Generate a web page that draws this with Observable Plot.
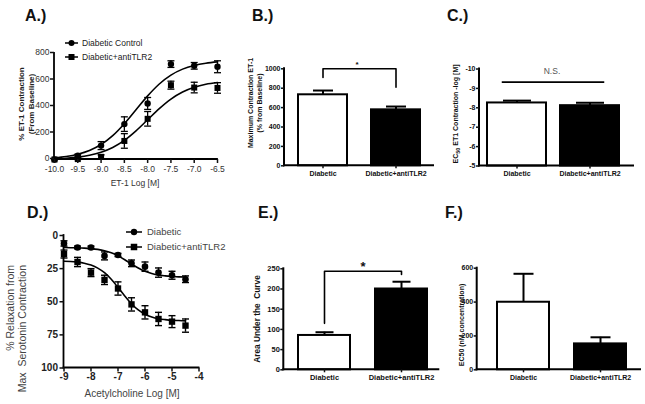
<!DOCTYPE html>
<html><head><meta charset="utf-8">
<script src="https://cdn.jsdelivr.net/npm/d3@7"></script>
<script src="https://cdn.jsdelivr.net/npm/@observablehq/plot@0.6"></script>
<style>
body{margin:0;background:#fff;}
#fig{position:relative;width:645px;height:404px;background:#fff;overflow:hidden;}
#fig svg{position:absolute;overflow:visible;}
</style></head><body><div id="fig"></div>
<script>
// ---------- Panel A: ET-1 concentration response ----------
const aDoses = [-10, -9.5, -9, -8.5, -8, -7.5, -7, -6.5];
const aControl = [0, 28, 105, 267, 423, 720, 707, 700];
const aControlErr = [4, 12, 30, 55, 45, 25, 25, 45];
const aTLR2 = [0, 3, 20, 140, 307, 561, 543, 540];
const aTLR2Err = [3, 5, 15, 55, 55, 30, 40, 40];
const aFitX = [-10, -9.75, -9.5, -9.25, -9, -8.75, -8.5, -8.25, -8, -7.75, -7.5, -7.25, -7, -6.75, -6.5];
const aFitControl = [13, 23, 40, 68, 113, 180, 270, 375, 480, 570, 637, 682, 710, 727, 737];
const aFitTLR2 = [6, 10, 18, 32, 55, 91, 144, 216, 300, 384, 456, 509, 545, 568, 581];
const aXTicks = [-10, -9.5, -9, -8.5, -8, -7.5, -7, -6.5];
const aYTicks = [0, 200, 400, 600, 800];
const aLegend = ["Diabetic Control", "Diabetic+antiTLR2"];

// ---------- Panel D: acetylcholine relaxation ----------
const dDoses = [-9, -8.5, -8, -7.5, -7, -6.5, -6, -5.5, -5, -4.5];
const dDiabetic = [6, 9, 9, 15.4, 14.7, 21, 23.5, 28, 30, 33];
const dDiabeticErr = [2, 1, 1, 3, 1.2, 2.5, 3.5, 3.5, 3, 2.5];
const dTLR2 = [14, 20, 28, 33.5, 40, 52, 58, 63, 65, 68];
const dTLR2Err = [3, 3.5, 3, 3.5, 5, 5, 5, 5, 4.5, 5];
const dFitX = [-9, -8.75, -8.5, -8.25, -8, -7.75, -7.5, -7.25, -7, -6.75, -6.5, -6.25, -6, -5.75, -5.5, -5.25, -5, -4.75, -4.5];
const dFitDiabetic = [9.1, 9.2, 9.3, 9.5, 9.9, 10.5, 11.5, 13.1, 15.4, 18.3, 21.5, 24.5, 27.0, 28.7, 29.9, 30.5, 30.9, 31.2, 31.3];
const dFitTLR2 = [19.4, 19.6, 20.1, 20.9, 22.3, 24.6, 28.1, 33.0, 39.2, 45.6, 51.5, 56.2, 59.4, 61.5, 62.8, 63.5, 64.0, 64.2, 64.4];
const dXTicks = [-9, -8, -7, -6, -5, -4];
const dYTicks = [0, 25, 50, 75, 100];
const dLegend = ["Diabetic", "Diabetic+antiTLR2"];

// ---------- Bar panels ----------
const groups = ["Diabetic", "Diabetic+antiTLR2"];
const barFills = ["white", "black"];
const bMax = [732, 577];
const bMaxErr = [44, 34];
const bYTicks = [0, 200, 400, 600, 800, 1000];
const bBracket = [910, 1000, 1000, 810];
const cEC50 = [-8.25, -8.11];
const cEC50Err = [0.12, 0.15];
const cYTicks = [-10, -9, -8, -7, -6, -5];
const cBase = -5;
const cNS = -9.3;
const eAUC = [85, 200];
const eAUCErr = [8, 18];
const eYTicks = [0, 50, 100, 150, 200, 250];
const eBracket = [115, 244, 244, 236];
const fEC50 = [399, 153];
const fEC50Err = [168, 39];
const fYTicks = [0, 200, 400, 600];

// ---------- helpers ----------
const FONT = "'Liberation Sans', Arial, Helvetica, sans-serif";
const fig = document.getElementById("fig");
const capSym = {draw(ctx, size) { const w = Math.sqrt(size / Math.PI); ctx.moveTo(-w, 0); ctx.lineTo(w, 0); }};

function label(parts, x, y, o = {}) {
  return () => {
    const t = d3.create("svg:text")
      .attr("transform", `translate(${x},${y})` + (o.rotate ? ` rotate(${o.rotate})` : ""))
      .attr("text-anchor", o.anchor || "middle")
      .attr("dy", o.dy != null ? o.dy : "0.35em")
      .attr("font-family", FONT)
      .attr("font-size", o.size || 8)
      .attr("font-weight", o.weight || "normal")
      .attr("fill", o.fill || "#111");
    let shifted = false;
    for (const p of [].concat(parts)) {
      if (typeof p === "string") {
        const s = t.append("tspan").text(p);
        if (shifted) { s.attr("dy", "-0.3em"); shifted = false; }
      } else {
        t.append("tspan").attr("dy", "0.3em").attr("font-size", p.size).text(p.sub);
        shifted = true;
      }
    }
    return t.node();
  };
}
const axisLines = (sw) => (I, s, v, d) => {
  const g = d3.create("svg:g").attr("stroke", "black").attr("stroke-width", sw).attr("stroke-linecap", "square");
  const x0 = d.marginLeft, x1 = d.width - d.marginRight, y0 = d.marginTop, y1 = d.height - d.marginBottom;
  g.append("line").attr("x1", x0).attr("x2", x0).attr("y1", y0).attr("y2", y1);
  g.append("line").attr("x1", x0).attr("x2", x1).attr("y1", y1).attr("y2", y1);
  return g.node();
};
const legendItem = (x, y, sym, text, o) => () => {
  const g = d3.create("svg:g");
  g.append("line").attr("x1", x).attr("x2", x + o.len).attr("y1", y).attr("y2", y).attr("stroke", "black").attr("stroke-width", 1.5);
  const cx = x + o.len / 2;
  if (sym === "circle") g.append("circle").attr("cx", cx).attr("cy", y).attr("r", o.r).attr("fill", "black");
  else g.append("rect").attr("x", cx - o.s / 2).attr("y", y - o.s / 2).attr("width", o.s).attr("height", o.s).attr("fill", "black");
  g.append("text").attr("x", x + o.len + o.gap).attr("y", y).attr("dy", "0.35em").attr("font-family", FONT)
    .attr("text-anchor", "start").attr("font-size", o.size).attr("fill", o.fill).text(text);
  return g.node();
};

function panel(box, frame, opts, marksFn) {
  const [L, T, W, H] = box;
  const [fx0, fx1, fy0, fy1] = frame;
  const at = (x, y) => [x - L, y - T];
  const svg = Plot.plot({
    width: W, height: H,
    marginLeft: fx0 - L, marginRight: L + W - fx1, marginTop: fy0 - T, marginBottom: T + H - fy1,
    style: {fontFamily: FONT, background: "transparent", overflow: "visible", color: "#111"},
    ...opts,
    marks: marksFn(at, L)
  });
  svg.style.position = "absolute"; svg.style.left = L + "px"; svg.style.top = T + "px";
  fig.appendChild(svg);
}

function xyErr(rows, sym, r, sw) {
  return [
    Plot.ruleX(rows, {x: "x", y1: d => Math.max(0, d.y - d.e), y2: d => d.y + d.e, stroke: "black", strokeWidth: sw}),
    Plot.dot(rows, {x: "x", y: d => d.y + d.e, symbol: capSym, r: 3.5, stroke: "black", fill: "none", strokeWidth: sw}),
    Plot.dot(rows, {x: "x", y: d => Math.max(0, d.y - d.e), symbol: capSym, r: 3.5, stroke: "black", fill: "none", strokeWidth: sw}),
    Plot.dot(rows, {x: "x", y: "y", symbol: sym, r, fill: "black", stroke: "none"})
  ];
}

// ---------- A ----------
{
  const rowsC = aDoses.map((x, i) => ({x, y: aControl[i], e: aControlErr[i]}));
  const rowsT = aDoses.map((x, i) => ({x, y: aTLR2[i], e: aTLR2Err[i]}));
  const fitC = aFitX.map((x, i) => ({x, y: aFitControl[i]}));
  const fitT = aFitX.map((x, i) => ({x, y: aFitTLR2[i]}));
  panel([0, 0, 230, 200], [54, 217, 53, 159],
    {x: {domain: [-10, -6.5]}, y: {domain: [0, 800]}},
    (at) => [
      Plot.line(fitC, {x: "x", y: "y", curve: "monotone-x", stroke: "black", strokeWidth: 1.6}),
      Plot.line(fitT, {x: "x", y: "y", curve: "monotone-x", stroke: "black", strokeWidth: 1.6}),
      ...xyErr(rowsC, "circle", 3.2, 1.3),
      ...xyErr(rowsT, "square", 3.4, 1.3),
      axisLines(1.8),
      Plot.axisX({ticks: aXTicks, tickFormat: d => d.toFixed(1), tickSize: 4, tickPadding: 2.5, fontSize: 8.5, strokeWidth: 1.5, label: null, fill: "#333"}),
      Plot.axisY({ticks: aYTicks, tickFormat: d => String(d), tickSize: 4, tickPadding: 1, fontSize: 8.5, strokeWidth: 1.5, label: null, fill: "#333", dy: -1}),
      label("A.)", ...at(25, 21), {anchor: "start", dy: 0, size: 16, weight: "bold"}),
      label("% ET-1 Contraction", ...at(21, 104), {rotate: -90, size: 8, weight: "bold", fill: "#222"}),
      label("(From Baseline)", ...at(31, 104), {rotate: -90, size: 8, weight: "bold", fill: "#222"}),
      label("ET-1 Log [M]", ...at(135, 183), {size: 8.5, fill: "#333"}),
      legendItem(...at(65, 43), "circle", aLegend[0], {len: 13, r: 3, gap: 4, size: 8.5, fill: "#222"}),
      legendItem(...at(65, 57), "square", aLegend[1], {len: 13, s: 6, gap: 4, size: 8.5, fill: "#222"})
    ]);
}

// ---------- D ----------
{
  const rowsC = dDoses.map((x, i) => ({x, y: dDiabetic[i], e: dDiabeticErr[i]}));
  const rowsT = dDoses.map((x, i) => ({x, y: dTLR2[i], e: dTLR2Err[i]}));
  const fitC = dFitX.map((x, i) => ({x, y: dFitDiabetic[i]}));
  const fitT = dFitX.map((x, i) => ({x, y: dFitTLR2[i]}));
  panel([0, 200, 230, 204], [63.5, 198.5, 235, 367.5],
    {x: {domain: [-9, -4]}, y: {domain: [0, 100], reverse: true}},
    (at) => [
      Plot.line(fitC, {x: "x", y: "y", curve: "monotone-x", stroke: "black", strokeWidth: 1.6}),
      Plot.line(fitT, {x: "x", y: "y", curve: "monotone-x", stroke: "black", strokeWidth: 1.6}),
      ...xyErr(rowsC, "circle", 3.3, 1.4),
      ...xyErr(rowsT, "square", 3.6, 1.4),
      axisLines(1.8),
      Plot.axisX({ticks: dXTicks, tickFormat: d => String(d), tickSize: 4, tickPadding: 1, fontSize: 10, fontWeight: "bold", strokeWidth: 1.5, label: null, fill: "#222"}),
      Plot.axisY({ticks: dYTicks, tickFormat: d => String(d), tickSize: 4, tickPadding: 2, fontSize: 10, fontWeight: "bold", strokeWidth: 1.5, label: null, fill: "#222"}),
      label("D.)", ...at(27, 218), {anchor: "start", dy: 0, size: 16, weight: "bold"}),
      label("% Relaxation from", ...at(10, 265), {rotate: -90, anchor: "end", size: 10.5, fill: "#444"}),
      label("Max  Serotonin Contraction", ...at(22, 265), {rotate: -90, anchor: "end", size: 10.5, fill: "#444"}),
      label("Acetylcholine Log [M]", ...at(132, 393), {size: 10, fill: "#444"}),
      legendItem(...at(126, 232), "circle", dLegend[0], {len: 16, r: 3.2, gap: 5, size: 9.5, fill: "#444"}),
      legendItem(...at(126, 247), "square", dLegend[1], {len: 16, s: 6.5, gap: 5, size: 9.5, fill: "#444"})
    ]);
}

// ---------- bar panel builder ----------
function barMarks(rows, dir, capR, sw) {
  return [
    Plot.barY(rows, {x: "g", y1: "b", y2: "v", fill: "fill", stroke: "black", strokeWidth: sw}),
    Plot.ruleX(rows, {x: "g", y1: "v", y2: d => d.v + dir * d.e, stroke: "black", strokeWidth: sw}),
    Plot.dot(rows, {x: "g", y: d => d.v + dir * d.e, symbol: capSym, r: capR, stroke: "black", fill: "none", strokeWidth: sw})
  ];
}
const mkRows = (vals, errs, base) => groups.map((g, i) => ({g, v: vals[i], e: errs[i], b: base, fill: barFills[i]}));

// ---------- B ----------
panel([225, 0, 215, 200], [284, 433, 68.3, 165.3],
  {x: {type: "band", domain: groups, range: [72.7, 195.7], paddingInner: 0.327, paddingOuter: 0},
   y: {domain: [0, 1000]}, color: {type: "identity"}},
  (at) => [
    ...barMarks(mkRows(bMax, bMaxErr, 0), 1, 10, 2),
    Plot.line(bBracket.map((y, i) => ({g: groups[i < 2 ? 0 : 1], y})), {x: "g", y: "y", stroke: "black", strokeWidth: 1.6}),
    axisLines(2),
    Plot.axisY({ticks: bYTicks, tickFormat: d => String(d), tickSize: 3, tickPadding: 1, fontSize: 7, fontWeight: "bold", strokeWidth: 1.5, label: null}),
    Plot.axisX({tickSize: 3, tickPadding: 2, fontSize: 7, fontWeight: "bold", strokeWidth: 1.5, label: null}),
    label("B.)", ...at(252, 21), {anchor: "start", dy: 0, size: 16, weight: "bold"}),
    label("Maximum Contraction ET-1", ...at(250.7, 103), {rotate: -90, size: 7, weight: "bold"}),
    label("(% from Baseline)", ...at(260, 103), {rotate: -90, size: 7, weight: "bold"}),
    label("*", ...at(357, 64), {size: 8, weight: "bold"})
  ]);

// ---------- C ----------
panel([435, 0, 210, 200], [479, 633, 68.5, 165.5],
  {x: {type: "band", domain: groups, range: [51.7, 184.3], paddingInner: 0.198, paddingOuter: 0},
   y: {domain: [cBase, -10]}, color: {type: "identity"}},
  (at) => [
    ...barMarks(mkRows(cEC50, cEC50Err, cBase), -1, 14, 2),
    (I, {x, y}) => {
      const bw = x.bandwidth ? x.bandwidth() : 0;
      return d3.create("svg:line")
        .attr("x1", x(groups[0]) + bw * 0.25).attr("x2", x(groups[1]) + bw * 0.75)
        .attr("y1", y(cNS)).attr("y2", y(cNS)).attr("stroke", "black").attr("stroke-width", 1.6).node();
    },
    axisLines(2),
    Plot.axisY({ticks: cYTicks, tickFormat: d => String(d), tickSize: 3, tickPadding: 1, fontSize: 7, fontWeight: "bold", strokeWidth: 1.5, label: null}),
    Plot.axisX({tickSize: 3, tickPadding: 2, fontSize: 7, fontWeight: "bold", strokeWidth: 1.5, label: null}),
    label("C.)", ...at(447, 21), {anchor: "start", dy: 0, size: 16, weight: "bold"}),
    label(["EC", {sub: "50", size: 5.5}, " ET1 Contraction -log [M]"], ...at(456, 114), {rotate: -90, size: 7, weight: "bold"}),
    label("N.S.", ...at(552, 71), {size: 8.5, fill: "#555"})
  ]);

// ---------- E ----------
panel([225, 200, 215, 204], [283.3, 438.3, 268.3, 369.3],
  {x: {type: "band", domain: groups, range: [72.7, 201.7], paddingInner: 0.331, paddingOuter: 0},
   y: {domain: [0, 250]}, color: {type: "identity"}},
  (at) => [
    ...barMarks(mkRows(eAUC, eAUCErr, 0), 1, 9, 2),
    Plot.line(eBracket.map((y, i) => ({g: groups[i < 2 ? 0 : 1], y})), {x: "g", y: "y", stroke: "black", strokeWidth: 1.6}),
    axisLines(2),
    Plot.axisY({ticks: eYTicks, tickFormat: d => String(d), tickSize: 3, tickPadding: 1, fontSize: 7.5, fontWeight: "bold", strokeWidth: 1.5, label: null}),
    Plot.axisX({tickSize: 3, tickPadding: 2, fontSize: 7.5, fontWeight: "bold", strokeWidth: 1.5, label: null}),
    label("E.)", ...at(258, 218), {anchor: "start", dy: 0, size: 16, weight: "bold"}),
    label("Area Under the  Curve", ...at(257, 319), {rotate: -90, size: 8.3, weight: "bold"}),
    label("*", ...at(363, 266), {size: 13, weight: "bold"})
  ]);

// ---------- F ----------
panel([435, 200, 210, 204], [476.7, 640, 267.7, 369.3],
  {x: {type: "band", domain: groups, range: [61.7, 191.7], paddingInner: 0.323, paddingOuter: 0},
   y: {domain: [0, 600]}, color: {type: "identity"}},
  (at) => [
    ...barMarks(mkRows(fEC50, fEC50Err, 0), 1, 10, 2),
    axisLines(2),
    Plot.axisY({ticks: fYTicks, tickFormat: d => String(d), tickSize: 3, tickPadding: 1, fontSize: 7, fontWeight: "bold", strokeWidth: 1.5, label: null}),
    Plot.axisX({tickSize: 3, tickPadding: 2, fontSize: 7, fontWeight: "bold", strokeWidth: 1.5, label: null}),
    label("F.)", ...at(445, 218), {anchor: "start", dy: 0, size: 16, weight: "bold"}),
    label("EC50 (nM concentration)", ...at(462, 325), {rotate: -90, size: 7, weight: "bold"})
  ]);
</script>
</body></html>
